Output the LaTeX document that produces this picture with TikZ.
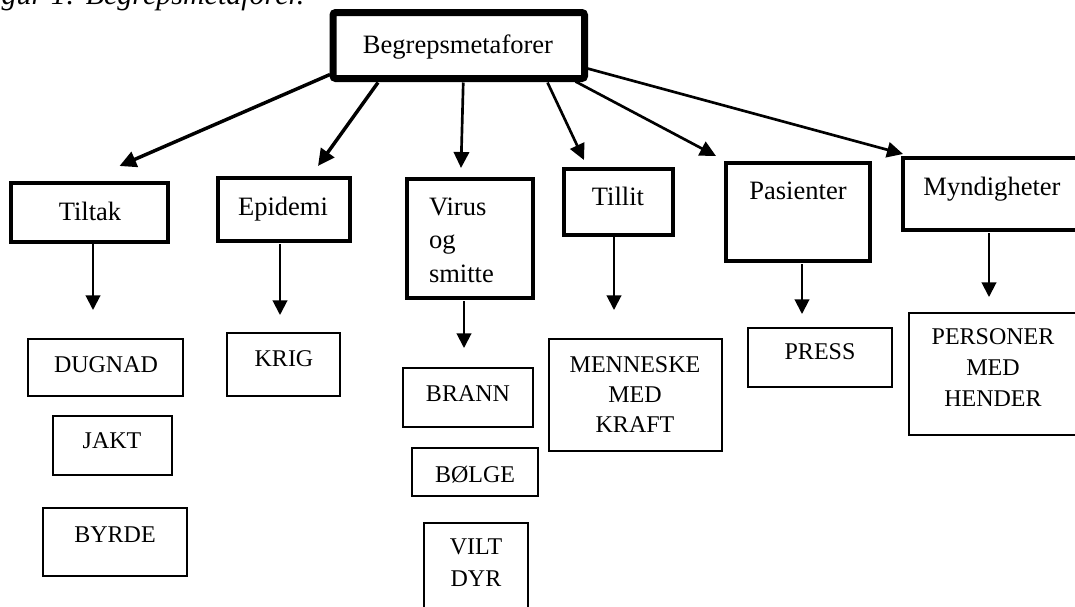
\documentclass[tikz,border=0pt]{standalone}
\usepackage{fontspec}
\setmainfont{Liberation Serif}
\usetikzlibrary{arrows.meta,fit}
\begin{document}
\begin{tikzpicture}[x=0.75pt,y=-0.75pt,
  every node/.style={inner sep=0pt, outer sep=0pt},
  rootbox/.style={draw, line width=5.25pt, rounded corners=2pt},
  catbox/.style={draw, line width=2.4pt},
  leafbox/.style={draw, line width=1.6pt},
  cattext/.style={font=\fontsize{19.9}{25}\selectfont, anchor=base},
  leaftext/.style={font=\fontsize{18}{22.5}\selectfont, anchor=base, align=center},
  captext/.style={font=\fontsize{22.5}{27}\selectfont\itshape, anchor=base west},
  toparrow/.style={line width=2pt, -{Triangle[length=12pt,width=11.5pt]}},
  thickarrow/.style={line width=2.6pt, -{Triangle[length=12.5pt,width=12pt]}},
  downarrow/.style={line width=1.5pt, -{Triangle[length=11pt,width=11pt]}},
]
\useasboundingbox (0,0) rectangle (1075,607);
\clip (0,0) rectangle (1075,607);
\fill[white] (0,0) rectangle (1075,607);

% caption (cut off at the top, as in the source)
\node[captext] (caption) at (-25,4) {Figur 1: Begrepsmetaforer.};

% boxes
\node[rootbox, fit={(333,12.5)(584.5,78.5)}] (root) {};
\node[catbox, fit={(11,183)(168,242)}] (tiltak) {};
\node[catbox, fit={(218,178)(350,241)}] (epidemi) {};
\node[catbox, fit={(407,179)(533,298)}] (virus) {};
\node[catbox, fit={(564,169)(673,235)}] (tillit) {};
\node[catbox, fit={(726,163)(870,261)}] (pasienter) {};
\node[catbox, fit={(903,158)(1090,230)}] (myndigheter) {};

\node[leafbox, fit={(28,339)(183,396)}] (dugnad) {};
\node[leafbox, fit={(53,416)(172,475)}] (jakt) {};
\node[leafbox, fit={(43,508)(187,576)}] (byrde) {};
\node[leafbox, fit={(227,333)(340,396)}] (krig) {};
\node[leafbox, fit={(403,368)(533,427)}] (brann) {};
\node[leafbox, fit={(412,448)(538,496)}] (bolge) {};
\node[leafbox, fit={(424,523)(528,630)}] (vilt) {};
\node[leafbox, fit={(549,339)(722,451)}] (menneske) {};
\node[leafbox, fit={(748,328)(892,387)}] (press) {};
\node[leafbox, fit={(909,313)(1090,435)}] (personer) {};

% texts (for several lines, the base anchor is the last line)
\node[cattext] (rootT) at (458,53) {Begrepsmetaforer};
\node[cattext] (tiltakT) at (90,220) {Tiltak};
\node[cattext] (epidemiT) at (283,215) {Epidemi};
\node[cattext, anchor=base west, align=left, font=\fontsize{19.9}{25.1}\selectfont] (virusT) at (429,282) {Virus\\og\\smitte};
\node[cattext] (tillitT) at (618,205) {Tillit};
\node[cattext] (pasienterT) at (798,199) {Pasienter};
\node[cattext] (myndigheterT) at (992,195) {Myndigheter};

\node[leaftext] (dugnadT) at (106,372) {DUGNAD};
\node[leaftext] (jaktT) at (112,448) {JAKT};
\node[leaftext] (byrdeT) at (115,542) {BYRDE};
\node[leaftext] (krigT) at (284,366) {KRIG};
\node[leaftext] (brannT) at (468,401) {BRANN};
\node[leaftext] (bolgeT) at (475,482) {BØLGE};
\node[leaftext, font=\fontsize{18}{24}\selectfont] (viltT) at (476,586) {VILT\\DYR};
\node[leaftext] (menneskeT) at (635,432) {MENNESKE\\MED\\KRAFT};
\node[leaftext, font=\fontsize{18}{23}\selectfont] (personerT) at (993,406) {PERSONER\\MED\\HENDER};
\node[leaftext] (pressT) at (820,359) {PRESS};

% arrows from the root
\draw[thickarrow] ([shift={(-3,-4)}]root.south west) -- ([shift={(30,-17)}]tiltak.north);
\draw[thickarrow] ([shift={(45,4)}]root.south west) -- ([shift={(34,-12)}]epidemi.north);
\draw[toparrow] ([shift={(4.5,4)}]root.south) -- ([shift={(-9,-11)}]virus.north);
\draw[toparrow] ([shift={(-37,4)}]root.south east) -- ([shift={(-34.5,-9)}]tillit.north);
\draw[toparrow] ([shift={(-9,3)}]root.south east) -- ([shift={(-10,-7)}]pasienter.north west);
\draw[toparrow] ([shift={(3,-10)}]root.south east) -- ([shift={(0,-4)}]myndigheter.north west);

% arrows down to the metaphors
\draw[downarrow] ([shift={(3.5,0)}]tiltak.south) -- ([shift={(-12.5,-29)}]dugnad.north);
\draw[downarrow] ([shift={(-4,3)}]epidemi.south) -- ([shift={(-3.5,-18)}]krig.north);
\draw[downarrow] ([shift={(-6,3)}]virus.south) -- ([shift={(-4,-20)}]brann.north);
\draw[downarrow] ([shift={(-4.5,0)}]tillit.south) -- ([shift={(-21.5,-29)}]menneske.north);
\draw[downarrow] ([shift={(4,3)}]pasienter.south) -- ([shift={(-18,-14)}]press.north);
\draw[downarrow] ([shift={(86,3)}]myndigheter.south west) -- ([shift={(80,-16)}]personer.north west);
\end{tikzpicture}
\end{document}
